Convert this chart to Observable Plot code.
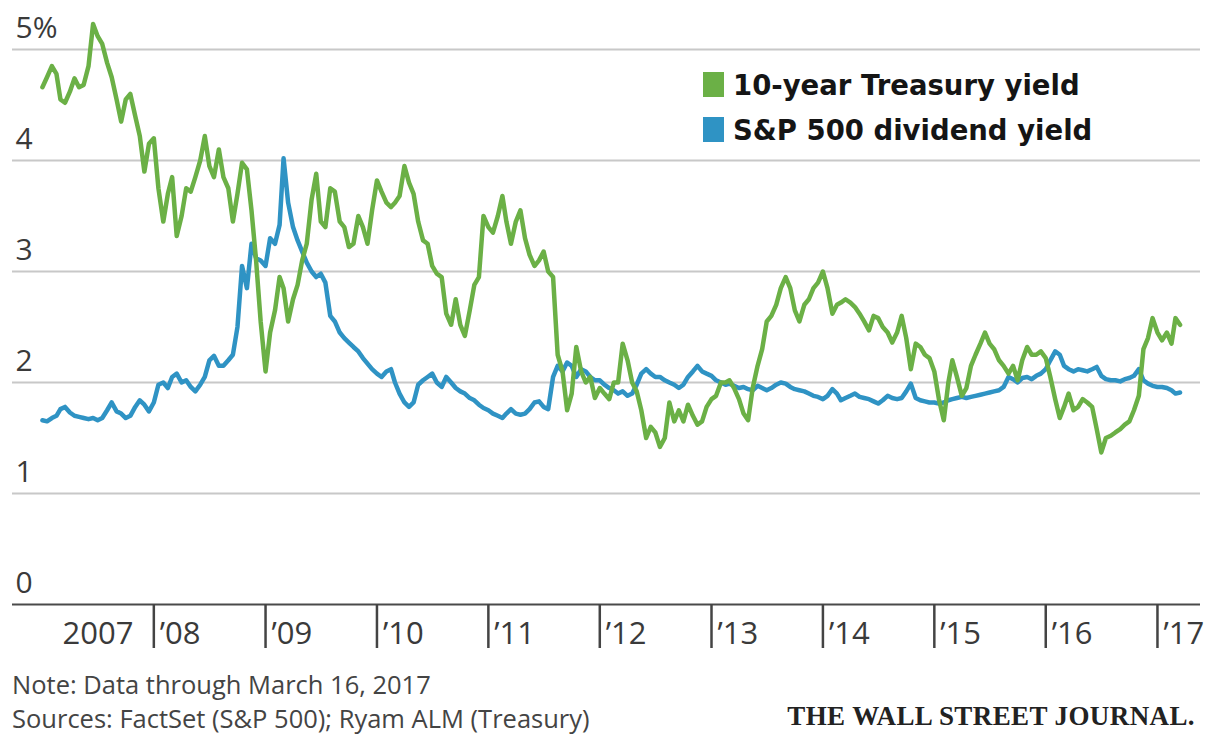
<!DOCTYPE html>
<html><head><meta charset="utf-8">
<script src="https://cdn.jsdelivr.net/npm/d3@7"></script>
<script src="https://cdn.jsdelivr.net/npm/@observablehq/plot@0.6"></script>
<style>
html,body{margin:0;padding:0;background:#fff;}
body{width:1206px;height:736px;overflow:hidden;position:relative;font-family:"Open Sans",sans-serif;}
#chart{position:absolute;left:0;top:0;}
.legend{position:absolute;left:703px;top:62px;font-family:"DejaVu Sans",sans-serif;font-weight:bold;font-size:27.5px;color:#151515;}
.row{display:flex;align-items:center;height:45px;white-space:nowrap;}
.sw{width:21px;height:25px;margin-right:9px;}
.note{position:absolute;left:12px;font-size:25.5px;color:#444;white-space:nowrap;}
.wsj{position:absolute;right:11px;top:701px;font-family:"Liberation Serif",serif;font-weight:bold;font-size:27px;color:#222;letter-spacing:0.4px;}
</style>
</head><body>
<div id="chart"></div>
<div class="legend">
  <div class="row"><div class="sw" style="background:#6bb046"></div><span>10-year Treasury yield</span></div>
  <div class="row"><div class="sw" style="background:#2f93c4"></div><span>S&amp;P 500 dividend yield</span></div>
</div>
<div class="note" style="top:667px">Note: Data through March 16, 2017</div>
<div class="note" style="top:701px">Sources: FactSet (S&amp;P 500); Ryam ALM (Treasury)</div>
<div class="wsj">THE WALL STREET JOURNAL.</div>
<script>
// Semi-monthly readings (1st and 16th of each month), percent
const tsy07 = [4.66,4.75,4.85,4.78,4.55,4.52,4.62,4.74,4.66,4.68,4.85,5.23,5.12,5.05,4.88,4.75,4.55,4.35,4.55,4.60,4.40,4.22,3.90,4.15];
const tsy08 = [4.20,3.75,3.45,3.70,3.85,3.32,3.50,3.75,3.72,3.85,4.00,4.22,3.95,3.85,4.10,3.85,3.75,3.45,3.70,3.98,3.92,3.55,3.10,2.55];
const tsy09 = [2.10,2.45,2.65,2.95,2.85,2.55,2.75,2.88,3.10,3.25,3.65,3.88,3.45,3.40,3.75,3.72,3.45,3.40,3.22,3.25,3.50,3.40,3.25,3.55];
const tsy10 = [3.82,3.72,3.62,3.58,3.62,3.68,3.95,3.80,3.70,3.45,3.28,3.25,3.05,2.98,2.95,2.62,2.52,2.75,2.52,2.42,2.65,2.88,2.95,3.50];
const tsy11 = [3.40,3.35,3.50,3.68,3.45,3.25,3.45,3.55,3.30,3.15,3.05,3.10,3.18,3.00,2.95,2.25,2.10,1.75,1.90,2.32,2.10,2.00,2.05,1.86];
const tsy12 = [1.95,1.90,1.85,2.00,2.00,2.35,2.20,2.00,1.92,1.75,1.50,1.60,1.55,1.42,1.50,1.82,1.65,1.75,1.65,1.80,1.70,1.62,1.65,1.78];
const tsy13 = [1.85,1.88,2.00,2.00,2.02,1.95,1.85,1.72,1.66,1.95,2.15,2.30,2.55,2.60,2.70,2.85,2.95,2.85,2.65,2.55,2.70,2.75,2.85,2.90];
const tsy14 = [3.00,2.85,2.62,2.70,2.72,2.75,2.72,2.68,2.62,2.55,2.47,2.60,2.58,2.50,2.45,2.36,2.45,2.60,2.40,2.12,2.35,2.32,2.25,2.22];
const tsy15 = [2.10,1.85,1.66,2.00,2.20,2.05,1.88,1.95,2.15,2.25,2.35,2.45,2.35,2.30,2.20,2.15,2.08,2.15,2.02,2.20,2.32,2.25,2.25,2.28];
const tsy16 = [2.22,2.05,1.85,1.68,1.78,1.90,1.75,1.78,1.85,1.82,1.78,1.58,1.37,1.50,1.52,1.55,1.58,1.62,1.65,1.75,1.88,2.30,2.40,2.58];
const tsy17 = [2.45,2.38,2.45,2.35,2.58,2.52];

const div07 = [1.66,1.65,1.68,1.70,1.76,1.78,1.73,1.70,1.69,1.68,1.67,1.68,1.66,1.68,1.75,1.82,1.74,1.72,1.68,1.70,1.78,1.84,1.80,1.74];
const div08 = [1.82,1.98,2.00,1.95,2.05,2.08,2.00,2.02,1.96,1.92,1.98,2.05,2.20,2.24,2.15,2.15,2.20,2.25,2.50,3.05,2.85,3.25,3.12,3.10];
const div09 = [3.05,3.30,3.25,3.42,4.02,3.62,3.40,3.28,3.18,3.08,3.00,2.95,2.98,2.90,2.60,2.55,2.45,2.40,2.36,2.32,2.28,2.22,2.17,2.12];
const div10 = [2.08,2.05,2.10,2.12,2.00,1.90,1.82,1.78,1.82,1.98,2.02,2.05,2.08,2.00,1.96,2.05,2.00,1.95,1.92,1.90,1.86,1.84,1.80,1.77];
const div11 = [1.75,1.72,1.70,1.68,1.72,1.76,1.72,1.71,1.72,1.76,1.82,1.83,1.78,1.76,2.05,2.15,2.10,2.18,2.15,2.05,2.12,2.10,2.05,2.02];
const div12 = [2.02,1.98,1.95,1.93,1.90,1.92,1.88,1.90,1.98,2.08,2.12,2.08,2.05,2.05,2.02,2.00,1.98,1.95,1.98,2.05,2.10,2.15,2.10,2.08];
const div13 = [2.06,2.02,2.00,1.98,1.99,1.97,1.95,1.96,1.94,1.93,1.97,1.95,1.93,1.95,1.98,2.00,1.99,1.96,1.94,1.93,1.92,1.90,1.88,1.87];
const div14 = [1.85,1.88,1.94,1.90,1.84,1.86,1.88,1.90,1.87,1.86,1.85,1.83,1.81,1.84,1.88,1.86,1.85,1.86,1.92,1.99,1.86,1.84,1.83,1.82];
const div15 = [1.82,1.81,1.82,1.84,1.85,1.86,1.87,1.86,1.87,1.88,1.89,1.90,1.91,1.92,1.93,1.96,2.05,2.03,2.00,2.04,2.05,2.03,2.06,2.08];
const div16 = [2.12,2.20,2.28,2.25,2.15,2.12,2.10,2.12,2.11,2.10,2.12,2.14,2.06,2.03,2.02,2.02,2.01,2.03,2.04,2.06,2.12,2.02,1.99,1.97];
const div17 = [1.96,1.96,1.95,1.93,1.90,1.91];

const years = [2007,2008,2009,2010,2011,2012,2013,2014,2015,2016,2017];
const tsyByYear = [tsy07,tsy08,tsy09,tsy10,tsy11,tsy12,tsy13,tsy14,tsy15,tsy16,tsy17];
const divByYear = [div07,div08,div09,div10,div11,div12,div13,div14,div15,div16,div17];

const yTicks = [0,1,2,3,4,5];
const yTickLabels = ["0","1","2","3","4","5%"];
const xTickYears = [2008,2009,2010,2011,2012,2013,2014,2015,2016,2017];
const xTickLabels = ["\u201908","\u201909","\u201910","\u201911","\u201912","\u201913","\u201914","\u201915","\u201916","\u201917"];
const firstYearLabel = "2007";

function rows(byYear) {
  const out = [];
  byYear.forEach((vals, k) => {
    vals.forEach((v, i) => {
      out.push({date: new Date(Date.UTC(years[k], Math.floor(i / 2), i % 2 ? 16 : 1)), value: v});
    });
  });
  return out;
}
const tsyRows = rows(tsyByYear);
const divRows = rows(divByYear);

const xStart = new Date(Date.UTC(2006, 8, 25));
const xEnd = new Date(Date.UTC(2017, 4, 22));
const tickDates = xTickYears.map(y => new Date(Date.UTC(y, 0, 1)));
const yLabelRows = yTicks.map((v, i) => ({v, label: yTickLabels[i]}));
const xLabelRows = xTickYears.map((y, i) => ({date: tickDates[i], label: xTickLabels[i]}));

const chart = Plot.plot({
  width: 1206,
  height: 660,
  marginLeft: 12,
  marginRight: 6,
  marginTop: 49,
  marginBottom: 56,
  x: {type: "utc", domain: [xStart, xEnd]},
  y: {domain: [0, 5], axis: null},
  style: {fontFamily: "Open Sans, sans-serif", background: "#fff", overflow: "visible"},
  marks: [
    Plot.ruleY(yTicks.filter(d => d > 0), {stroke: "#c8c8c8", strokeWidth: 2}),
    Plot.ruleY([0], {stroke: "#4a4a4a", strokeWidth: 2}),
    Plot.text(yLabelRows, {x: () => xStart, y: "v", text: "label", textAnchor: "start", dx: 3, dy: -21, fontSize: 30, fill: "#3a3a3a"}),
    Plot.axisX(tickDates, {tickSize: 44, tickFormat: () => "", stroke: "#444", strokeWidth: 2.5}),
    Plot.text(xLabelRows, {x: "date", y: () => 0, text: "label", textAnchor: "start", dx: 6, dy: 30, fontSize: 31, fill: "#3a3a3a"}),
    Plot.text([{date: new Date(Date.UTC(2007, 6, 2)), label: firstYearLabel}], {x: "date", y: () => 0, text: "label", textAnchor: "middle", dy: 30, fontSize: 31, fill: "#3a3a3a"}),
    Plot.line(divRows, {x: "date", y: "value", stroke: "#2f93c4", strokeWidth: 4.5, strokeLinejoin: "round"}),
    Plot.line(tsyRows, {x: "date", y: "value", stroke: "#6bb046", strokeWidth: 4.5, strokeLinejoin: "round"})
  ]
});
document.getElementById("chart").appendChild(chart);
</script>
</body></html>
